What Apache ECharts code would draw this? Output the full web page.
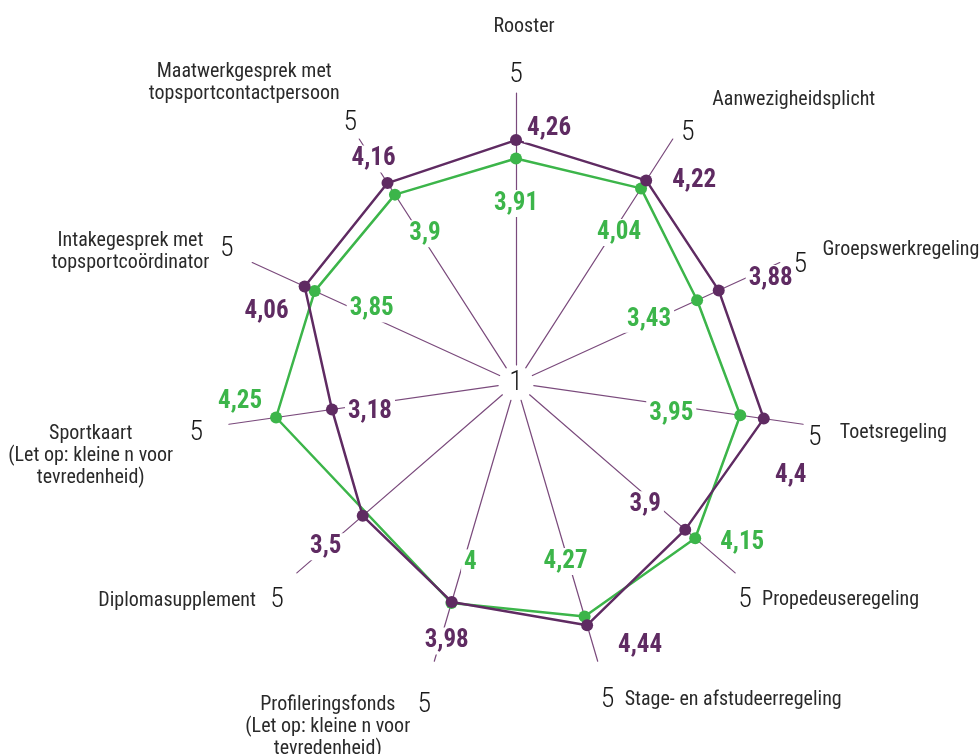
<!DOCTYPE html>
<html><head><meta charset="utf-8">
<script src="https://cdn.jsdelivr.net/npm/echarts@6/dist/echarts.min.js"></script>
<style>html,body{margin:0;padding:0;background:#fff}#c{width:980px;height:754px}</style>
</head><body><div id="c"></div>
<script>
// ---- data ----
const categories = [
  'Rooster',
  'Aanwezigheidsplicht',
  'Groepswerkregeling',
  'Toetsregeling',
  'Propedeuseregeling',
  'Stage- en afstudeerregeling',
  'Profileringsfonds\n(Let op: kleine n voor\ntevredenheid)',
  'Diplomasupplement',
  'Sportkaart\n(Let op: kleine n voor\ntevredenheid)',
  'Intakegesprek met\ntopsportcoördinator',
  'Maatwerkgesprek met\ntopsportcontactpersoon'
];
const purpleValues = [4.26, 4.22, 3.88, 4.4, 3.9, 4.44, 3.98, 3.5, 3.18, 4.06, 4.16];
const greenValues  = [3.91, 4.04, 3.43, 3.95, 4.15, 4.27, 4, null, 4.25, 3.85, 3.9];
const centerTickLabel = '1';
const maxTickLabel = '5';
const scaleMin = 0;
const scaleMax = 5;

// ---- layout / style ----
const CENTER = [516, 383];
const PURPLE = '#5f2b62';
const GREEN = '#3cb54a';
const SPOKE = '#7a4a7c';
const FONT = "'Roboto Condensed', 'Roboto', sans-serif";
const purpleLabelOffsets = [[33,-11],[48,0],[52,-12],[27,57],[-40,-25],[53,21],[-5,39],[-37,31],[38,2],[-38,25],[-14,-24]];
const greenLabelOffsets  = [[0,45],[-22,44],[-48,19],[-69,-1],[47,4],[-19,-55],[19,-40],null,[-36,-16],[57,18],[30,39]];
// label nudges (dx, dy) for category names and for the "5" tick labels
const nameShifts = [[8,-30],[26,-18],[20,-2],[12,5],[8,11],[20,15],[-17,42],[-22,12],[-31,28],[-20,0],[-6,-35]];
const maxShifts  = [[0,0],[6,-3],[10,4],[1,13],[0,24],[2,35],[-2,40],[-10,24],[-22,8],[-15,-12],[0,-13]];

const fmt = v => String(v).replace('.', ',');

function buildData(values, offsets) {
  const out = [];
  let first = null;
  values.forEach((v, i) => {
    if (v == null) return;
    const item = { value: [v, i], label: { offset: offsets[i] } };
    if (!first) first = [v, i];
    out.push(item);
  });
  out.push({ value: first.slice(), symbol: 'none', label: { show: false } });
  return out;
}

// radar draws indicators counter-clockwise; the chart runs clockwise
const radarOrder = categories.map((c, i) => (categories.length - i) % categories.length);

function padFor(i, dx, dy) {
  const pad = [dy > 0 ? 2 * dy : 0, dx < 0 ? -dx : 0, dy < 0 ? -2 * dy : 0, dx > 0 ? dx : 0];
  if (i === 0) { pad[1] = dx < 0 ? -2 * dx : 0; pad[3] = dx > 0 ? 2 * dx : 0; }
  return pad;
}

const nameRich = {};
const maxRich = {};
categories.forEach((c, i) => {
  nameRich['n' + i] = {
    fontFamily: FONT, fontSize: 20, color: '#2a2a2a', lineHeight: 22,
    padding: padFor(i, nameShifts[i][0], nameShifts[i][1]), align: 'center'
  };
  maxRich['m' + i] = {
    fontFamily: FONT, fontSize: 28, fontWeight: 300, color: '#1a1a1a',
    padding: padFor(i, maxShifts[i][0], maxShifts[i][1])
  };
});

const chart = echarts.init(document.getElementById('c'), null, { renderer: 'canvas' });
const option = {
  backgroundColor: '#ffffff',
  animation: false,
  radar: [
    {
      center: CENTER, radius: [18, 290], startAngle: 90, splitNumber: 1, shape: 'polygon',
      indicator: radarOrder.map(i => ({ name: maxTickLabel, key: i, min: scaleMin, max: scaleMax })),
      axisName: {
        formatter: (name, ind) => '{m' + ind.key + '|' + name + '}',
        rich: maxRich
      },
      nameGap: 4,
      axisLine: { show: true, lineStyle: { color: SPOKE, width: 1.2 } },
      splitLine: { show: false }, splitArea: { show: false }, axisTick: { show: false }, axisLabel: { show: false }
    },
    {
      center: CENTER, radius: [18, 290], startAngle: 90, splitNumber: 1, shape: 'polygon',
      indicator: radarOrder.map(i => ({ name: categories[i], key: i, min: scaleMin, max: scaleMax })),
      axisName: {
        formatter: (name, ind) => name.split('\n').map(l => '{n' + ind.key + '|' + l + '}').join('\n'),
        rich: nameRich
      },
      nameGap: 25,
      axisLine: { show: false }, splitLine: { show: false }, splitArea: { show: false }, axisTick: { show: false }, axisLabel: { show: false }
    }
  ],
  polar: { center: CENTER, radius: [18, 282] },
  angleAxis: { type: 'value', min: 0, max: categories.length, startAngle: 90, clockwise: true, show: false },
  radiusAxis: { type: 'value', min: scaleMin, max: scaleMax, show: false },
  graphic: [{
    type: 'text', x: CENTER[0], y: CENTER[1], z: 100,
    style: { text: centerTickLabel, fill: '#1a1a1a', font: '300 28px ' + FONT, textAlign: 'center', textVerticalAlign: 'middle' }
  }],
  series: [
    {
      type: 'line', coordinateSystem: 'polar', z: 3,
      data: buildData(greenValues, greenLabelOffsets),
      symbol: 'circle', symbolSize: 12,
      lineStyle: { color: GREEN, width: 2.5 }, itemStyle: { color: GREEN },
      label: { show: true, position: 'inside', formatter: p => fmt(p.value[0]), color: GREEN,
        fontFamily: FONT, fontWeight: 'bold', fontSize: 25, backgroundColor: '#fff', padding: [1, 3] }
    },
    {
      type: 'line', coordinateSystem: 'polar', z: 4,
      data: buildData(purpleValues, purpleLabelOffsets),
      symbol: 'circle', symbolSize: 12,
      lineStyle: { color: PURPLE, width: 2.5 }, itemStyle: { color: PURPLE },
      label: { show: true, position: 'inside', formatter: p => fmt(p.value[0]), color: PURPLE,
        fontFamily: FONT, fontWeight: 'bold', fontSize: 25, backgroundColor: '#fff', padding: [1, 3] }
    }
  ]
};
chart.setOption(option);
</script>
</body></html>
